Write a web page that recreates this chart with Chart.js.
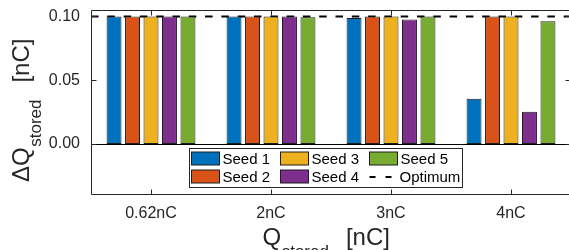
<!DOCTYPE html>
<html>
<head>
<meta charset="utf-8">
<script src="https://cdn.jsdelivr.net/npm/chart.js@4/dist/chart.umd.min.js"></script>
<style>
html,body{margin:0;padding:0;background:#fff;overflow:hidden;width:569px;height:250px;}
canvas{display:block;}
</style>
</head>
<body>
<canvas id="c" width="572" height="250" style="width:572px;height:250px"></canvas>
<script>
// ---- data ----
const categories = ['0.62nC', '2nC', '3nC', '4nC'];
const seed1 = [0.100, 0.100, 0.0988, 0.0355];
const seed2 = [0.100, 0.100, 0.100, 0.100];
const seed3 = [0.100, 0.100, 0.100, 0.100];
const seed4 = [0.100, 0.100, 0.0975, 0.0253];
const seed5 = [0.100, 0.0994, 0.100, 0.0962];
const optimum = 0.1;
const yTicks = [0, 0.05, 0.10];
const seriesNames = ['Seed 1', 'Seed 2', 'Seed 3', 'Seed 4', 'Seed 5'];
const optimumName = 'Optimum';

const colors = ['#0072BD', '#D95319', '#EDB120', '#7E2F8E', '#77AC30'];
const AX = '#262626';
const FONT = '"Liberation Sans", Arial, Helvetica, sans-serif';

const series = [seed1, seed2, seed3, seed4, seed5];
const datasets = series.map((d, i) => ({
  label: seriesNames[i],
  data: d,
  backgroundColor: colors[i],
  borderColor: '#1e1e1e',
  borderWidth: 1,
  borderSkipped: false,
  barPercentage: 0.81,
  categoryPercentage: 0.77
}));

const framePlugin = {
  id: 'frame',
  beforeDatasetsDraw(chart) {
    const ctx = chart.ctx, a = chart.chartArea, y = chart.scales.y;
    ctx.save();
    ctx.beginPath();
    ctx.rect(a.left, a.top, a.right - a.left, a.bottom - a.top);
    ctx.clip();
    ctx.strokeStyle = '#000';
    ctx.lineWidth = 2;
    ctx.setLineDash([7.5, 8.8]);
    const py = y.getPixelForValue(optimum);
    ctx.beginPath();
    ctx.moveTo(a.left, py);
    ctx.lineTo(a.right, py);
    ctx.stroke();
    ctx.restore();
  },
  afterDatasetsDraw(chart) {
    const ctx = chart.ctx, a = chart.chartArea, x = chart.scales.x, y = chart.scales.y;
    ctx.save();
    ctx.lineWidth = 1;
    const y0 = Math.round(y.getPixelForValue(0)) + 0.5;
    ctx.strokeStyle = '#000';
    ctx.beginPath(); ctx.moveTo(a.left, y0); ctx.lineTo(a.right, y0); ctx.stroke();
    ctx.strokeStyle = AX;
    const L = Math.round(a.left) + 0.5, R = Math.round(a.right) - 0.5;
    const T = Math.round(a.top) + 0.5, B = Math.round(a.bottom) - 0.5;
    ctx.beginPath();
    ctx.moveTo(L, T); ctx.lineTo(R, T); ctx.lineTo(R, B); ctx.lineTo(L, B); ctx.closePath();
    ctx.stroke();
    yTicks.forEach(v => {
      const p = Math.round(y.getPixelForValue(v)) + 0.5;
      ctx.beginPath();
      ctx.moveTo(L, p); ctx.lineTo(L + 5, p);
      ctx.moveTo(R, p); ctx.lineTo(R - 5, p);
      ctx.stroke();
    });
    categories.forEach((c, i) => {
      const p = Math.round(x.getPixelForValue(i)) + 0.5;
      ctx.beginPath();
      ctx.moveTo(p, T); ctx.lineTo(p, T + 5);
      ctx.moveTo(p, B); ctx.lineTo(p, B - 5);
      ctx.stroke();
    });
    ctx.restore();
  },
  afterDraw(chart) {
    const ctx = chart.ctx;
    ctx.save();
    // ---- legend ----
    const bx = 189.5, by = 148.5, bw = 273, bh = 39;
    ctx.fillStyle = '#fff';
    ctx.fillRect(bx, by, bw, bh);
    ctx.strokeStyle = AX;
    ctx.lineWidth = 1;
    ctx.strokeRect(bx, by, bw, bh);
    const colX = [191.5, 280.5, 369.5];
    const rowY = [158.5, 176.5];
    const order = [[0, 1], [2, 3], [4, -1]];
    ctx.font = '15px ' + FONT;
    ctx.textBaseline = 'middle';
    ctx.fillStyle = '#000';
    order.forEach((col, ci) => {
      col.forEach((di, ri) => {
        const sx = colX[ci], sy = rowY[ri];
        if (di >= 0) {
          const ds = chart.data.datasets[di];
          ctx.fillStyle = ds.backgroundColor;
          ctx.fillRect(sx, sy - 6.5, 28, 13);
          ctx.strokeStyle = '#1e1e1e';
          ctx.strokeRect(sx, sy - 6.5, 28, 13);
          ctx.fillStyle = '#000';
          ctx.fillText(ds.label, sx + 31, sy + 1);
        } else {
          ctx.strokeStyle = '#000';
          ctx.lineWidth = 2;
          ctx.setLineDash([6, 10]);
          ctx.beginPath();
          ctx.moveTo(sx, sy + 0.5); ctx.lineTo(sx + 28, sy + 0.5);
          ctx.stroke();
          ctx.setLineDash([]);
          ctx.lineWidth = 1;
          ctx.fillStyle = '#000';
          ctx.fillText(optimumName, sx + 30, sy + 1);
        }
      });
    });
    // ---- axis titles with subscripts ----
    ctx.fillStyle = AX;
    ctx.textBaseline = 'alphabetic';
    ctx.textAlign = 'left';
    const big = '24px ' + FONT, small = '17px ' + FONT;
    function drawTitle(main) {
      ctx.font = big;
      ctx.fillText(main, 0, 0);
      let w = ctx.measureText(main).width + 0.5;
      ctx.font = small;
      ctx.fillText('stored', w, 12);
      w += ctx.measureText('stored').width + 17;
      ctx.font = big;
      ctx.fillText('[nC]', w, 0);
    }
    ctx.save();
    ctx.translate(262.5, 245);
    drawTitle('Q');
    ctx.restore();
    ctx.save();
    ctx.translate(28.5, 182);
    ctx.rotate(-Math.PI / 2);
    drawTitle('\u0394Q');
    ctx.restore();
    ctx.restore();
  }
};

new Chart(document.getElementById('c'), {
  type: 'bar',
  data: { labels: categories, datasets },
  options: {
    responsive: false,
    devicePixelRatio: 1,
    animation: false,
    layout: { padding: { top: 10, right: 1, left: 0, bottom: 0 } },
    plugins: { legend: { display: false }, tooltip: { enabled: false } },
    scales: {
      x: {
        grid: { display: false, drawTicks: false },
        border: { display: false },
        ticks: { color: AX, font: { family: FONT, size: 16 }, padding: 9, maxRotation: 0 },
        afterFit(s) { s.height = 55; s.paddingLeft = 0; s.paddingRight = 0; }
      },
      y: {
        min: -0.04,
        max: 0.105,
        grid: { display: false, drawTicks: false },
        border: { display: false },
        afterBuildTicks(s) { s.ticks = yTicks.map(v => ({ value: v })); },
        ticks: {
          color: AX, font: { family: FONT, size: 16 }, padding: 11,
          callback: v => Number(v).toFixed(2)
        },
        afterFit(s) { s.width = 91; s.paddingTop = 0; s.paddingBottom = 0; }
      }
    }
  },
  plugins: [framePlugin]
});
</script>
</body>
</html>
